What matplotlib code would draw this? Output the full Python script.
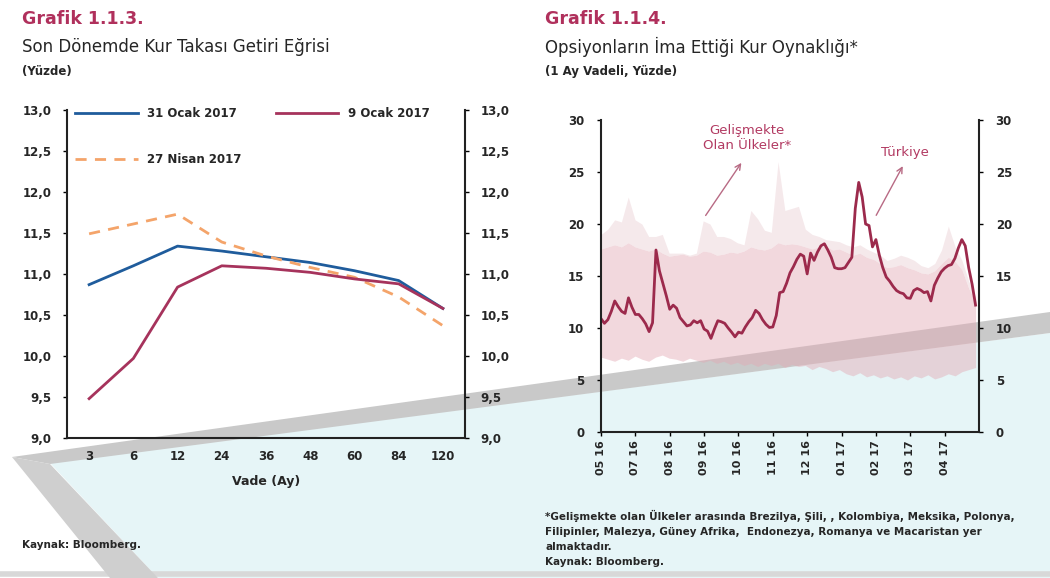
import matplotlib.pyplot as plt
import numpy as np
from matplotlib.patches import Polygon

plt.rcParams["font.family"] = ["DejaVu Sans"]

# --- Grafik 1.1.3 data: swap yield curve (percent) ---
maturity = ["3", "6", "12", "24", "36", "48", "60", "84", "120"]
ocak_31 = [10.87, 11.10, 11.34, 11.28, 11.21, 11.14, 11.04, 10.92, 10.58]
ocak_9 = [9.48, 9.97, 10.84, 11.10, 11.07, 11.02, 10.94, 10.88, 10.58]
nisan_27 = [11.49, 11.61, 11.73, 11.39, 11.22, 11.08, 10.96, 10.72, 10.37]

# --- Grafik 1.1.4 data: implied FX volatility (1 month, percent) ---
date_labels = ["05 16", "07 16", "08 16", "09 16", "10 16", "11 16",
               "12 16", "01 17", "02 17", "03 17", "04 17"]
turkiye = [
    10.9, 10.45, 10.8, 11.6, 12.6, 12.05, 11.6, 11.4, 12.9, 12.0,
    11.3, 11.3, 10.9, 10.4, 9.65, 10.5, 17.5, 15.5, 14.3, 13.1,
    11.8, 12.2, 11.9, 11.0, 10.6, 10.2, 10.3, 10.7, 10.5, 10.7,
    9.9, 9.7, 9.0, 9.9, 10.7, 10.6, 10.45, 10.0, 9.6, 9.15,
    9.6, 9.5, 10.1, 10.6, 11.0, 11.7, 11.4, 10.8, 10.35, 10.05,
    10.1, 11.2, 13.4, 13.5, 14.3, 15.3, 15.9, 16.6, 17.1, 16.9,
    15.2, 17.2, 16.5, 17.3, 17.9, 18.1, 17.5, 16.8, 15.8, 15.7,
    15.7, 15.8, 16.3, 16.8, 21.5, 24.0, 22.6, 20.0, 19.85, 17.8,
    18.5, 17.0, 15.8, 14.9, 14.5, 14.0, 13.6, 13.4, 13.3, 12.9,
    12.85, 13.6, 13.8, 13.65, 13.4, 13.5, 12.6, 14.1, 14.8, 15.4,
    15.75, 16.0, 16.1, 16.7, 17.7, 18.5, 17.9, 15.8, 14.2, 12.2,
]
em_high = [
    19.0, 19.5, 20.4, 20.2, 22.6, 20.4, 20.0, 18.8, 18.8, 19.0,
    17.2, 17.2, 17.2, 17.0, 17.2, 20.3, 20.0, 18.8, 18.8, 18.6,
    18.2, 18.0, 21.3, 20.5, 19.4, 19.2, 26.0, 21.3, 21.5, 21.7,
    19.5, 19.0, 18.8, 18.5, 18.4, 18.3, 18.0, 17.8, 18.0, 17.6,
    17.3, 17.0, 16.5, 16.7, 17.0, 16.8, 16.5, 16.0, 15.8, 16.2,
    17.5, 19.8, 17.8, 16.5, 14.5, 13.0,
]
em_mid = [
    17.6, 17.8, 18.0, 17.8, 18.2, 17.8, 17.6, 17.4, 17.6, 17.2,
    16.9, 17.0, 17.1, 16.9, 17.0, 17.4, 17.3, 17.0, 17.1, 17.3,
    17.2, 17.4, 17.8, 17.6, 17.5, 17.7, 18.2, 18.0, 18.1, 18.0,
    17.8, 17.6, 17.8, 17.9, 17.5, 17.6, 17.3, 17.0, 17.2, 16.8,
    16.6, 16.2, 15.8, 15.9, 16.1, 15.8, 15.6, 15.3, 15.2, 15.5,
    16.2, 16.8, 16.4, 15.6, 13.8, 12.5,
]
em_low = [
    7.2, 7.0, 6.8, 7.1, 6.9, 7.3, 7.0, 6.8, 7.2, 7.4,
    7.1, 7.0, 6.8, 7.1, 6.9, 6.7, 6.9, 6.6, 6.8, 6.5,
    6.7, 6.4, 6.6, 6.3, 6.6, 6.4, 6.6, 6.2, 6.5, 6.3,
    6.4, 6.0, 6.3, 6.1, 5.8, 6.0, 5.6, 5.4, 5.7, 5.3,
    5.5, 5.2, 5.4, 5.1, 5.3, 5.0, 5.4, 5.2, 5.5, 5.1,
    5.3, 5.6, 5.4, 5.8, 6.0, 6.2,
]

TITLE_C = "#b0305c"
TEXT_C = "#262626"
W, H = 1050, 578


def fx(x):
    return x / W


def fy(y):
    return 1 - y / H


fig = plt.figure(figsize=(10.5, 5.78), dpi=100)

# page decoration behind the charts (scan background)
cyan = Polygon([(fx(50), fy(463)), (fx(1050), fy(333)), (fx(1050), fy(578)),
                (fx(158), fy(578))], closed=True, transform=fig.transFigure,
               facecolor="#e6f5f7", edgecolor="none", zorder=-2)
swoosh = Polygon([(fx(12), fy(457)), (fx(1050), fy(312)), (fx(1050), fy(333)),
                  (fx(50), fy(464))], closed=True, transform=fig.transFigure,
                 facecolor="#c9c9c9", edgecolor="none", zorder=-1)
leg = Polygon([(fx(12), fy(457)), (fx(50), fy(464)), (fx(158), fy(578)),
               (fx(110), fy(578))], closed=True, transform=fig.transFigure,
              facecolor="#cfcfcf", edgecolor="none", zorder=-1)
for p in (cyan, swoosh, leg):
    fig.patches.append(p)
fig.add_artist(plt.Line2D([0, 1], [fy(574), fy(574)], color="#d8d8d8", lw=4,
                          transform=fig.transFigure, zorder=-1))

# titles
for x0, num, sub, unit in [
    (22, "Grafik 1.1.3.", "Son Dönemde Kur Takası Getiri Eğrisi", "(Yüzde)"),
    (545, "Grafik 1.1.4.", "Opsiyonların İma Ettiği Kur Oynaklığı*", "(1 Ay Vadeli, Yüzde)"),
]:
    fig.text(fx(x0), fy(19), num, fontsize=12.5, fontweight="bold", color=TITLE_C, va="center")
    fig.text(fx(x0), fy(47), sub, fontsize=12, color=TEXT_C, va="center")
    fig.text(fx(x0), fy(72), unit, fontsize=8.5, fontweight="bold", color=TEXT_C, va="center")

# ---------------- left chart ----------------
ax1 = fig.add_axes([fx(67), fy(438), (465 - 67) / W, (438 - 110) / H])
ax1.set_facecolor("none")
xi = np.arange(len(maturity))
ax1.plot(xi, ocak_31, color="#1f5c9c", lw=2, label="31 Ocak 2017")
ax1.plot(xi, nisan_27, color="#f4a46a", lw=2, ls=(0, (4, 3)), label="27 Nisan 2017")
ax1.plot(xi, ocak_9, color="#a6335c", lw=2, label="9 Ocak 2017")
ax1.set_xlim(-0.5, len(maturity) - 0.5)
ax1.set_ylim(9, 13)
yt = np.arange(9, 13.01, 0.5)
ax1.set_yticks(yt)
ax1.set_yticklabels([f"{v:.1f}".replace(".", ",") for v in yt])
ax1.set_xticks(xi)
ax1.set_xticklabels(maturity)
ax1.tick_params(axis="y", left=True, right=True, labelleft=True, labelright=True,
                length=3, width=1, pad=8, labelsize=8.5, labelcolor=TEXT_C)
ax1.tick_params(axis="x", length=0, pad=9, labelsize=8.5, labelcolor=TEXT_C)
for lbl in ax1.get_xticklabels() + ax1.get_yticklabels():
    lbl.set_fontweight("bold")
ax1.spines["top"].set_visible(False)
for s in ("left", "right", "bottom"):
    ax1.spines[s].set_linewidth(1.5)
    ax1.spines[s].set_color("#222222")
ax1.set_xlabel("Vade (Ay)", fontsize=9, fontweight="bold", color=TEXT_C, labelpad=8)
ax1.legend(loc="upper left", bbox_to_anchor=(0.02, 1.01), ncol=2, frameon=False,
           prop={"size": 8.5, "weight": "bold"}, handlelength=5.3, handletextpad=0.8,
           labelspacing=2.85, columnspacing=2.9, borderpad=0, borderaxespad=0)
for t in ax1.get_legend().get_texts():
    t.set_color(TEXT_C)
fig.text(fx(22), fy(545), "Kaynak: Bloomberg.", fontsize=7.5, fontweight="bold",
         color=TEXT_C, va="center")

# ---------------- right chart ----------------
ax2 = fig.add_axes([fx(601), fy(432), (979 - 601) / W, (432 - 120) / H])
ax2.set_facecolor("none")
xt = np.arange(len(turkiye))
xe = np.linspace(0, len(turkiye) - 1, len(em_high))
ax2.fill_between(xe, em_low, em_mid, color="#e3a9b4", alpha=0.45, lw=0)
ax2.fill_between(xe, em_mid, em_high, color="#e8c8ce", alpha=0.4, lw=0)
ax2.plot(xt, turkiye, color="#9c2a4c", lw=2)
ax2.set_xlim(0, len(turkiye))
ax2.set_ylim(0, 30)
ax2.set_yticks(np.arange(0, 31, 5))
ax2.set_xticks(np.arange(len(date_labels)) * 10)
ax2.set_xticklabels(date_labels, rotation=90)
ax2.tick_params(axis="y", left=True, right=True, labelleft=True, labelright=True,
                length=3, width=1, pad=9, labelsize=8.5, labelcolor=TEXT_C)
ax2.tick_params(axis="x", length=3, width=1, pad=3, labelsize=8, labelcolor=TEXT_C)
for lbl in ax2.get_xticklabels() + ax2.get_yticklabels():
    lbl.set_fontweight("bold")
ax2.spines["top"].set_visible(False)
for s in ("left", "right", "bottom"):
    ax2.spines[s].set_linewidth(1.5)
    ax2.spines[s].set_color("#222222")

ann_c = "#b23a62"
ax2.text(42.5, 28.3, "Gelişmekte\nOlan Ülkeler*", ha="center", va="center",
         fontsize=9.5, color=ann_c, linespacing=1.2)
ax2.annotate("", xy=(41.3, 26.1), xytext=(30.0, 20.6),
             arrowprops=dict(arrowstyle="->", color="#b86a84", lw=1))
ax2.text(88.5, 26.9, "Türkiye", ha="center", va="center", fontsize=9.5, color=ann_c)
ax2.annotate("", xy=(88.2, 25.8), xytext=(79.7, 20.6),
             arrowprops=dict(arrowstyle="->", color="#b86a84", lw=1))

fig.text(fx(545), fy(538.5),
         "*Gelişmekte olan Ülkeler arasında Brezilya, Şili, , Kolombiya, Meksika, Polonya,\n"
         "Filipinler, Malezya, Güney Afrika,  Endonezya, Romanya ve Macaristan yer\n"
         "almaktadır.\nKaynak: Bloomberg.",
         fontsize=7.5, fontweight="bold", color=TEXT_C, va="center", linespacing=1.6)

fig.savefig("out.png", dpi=100)
